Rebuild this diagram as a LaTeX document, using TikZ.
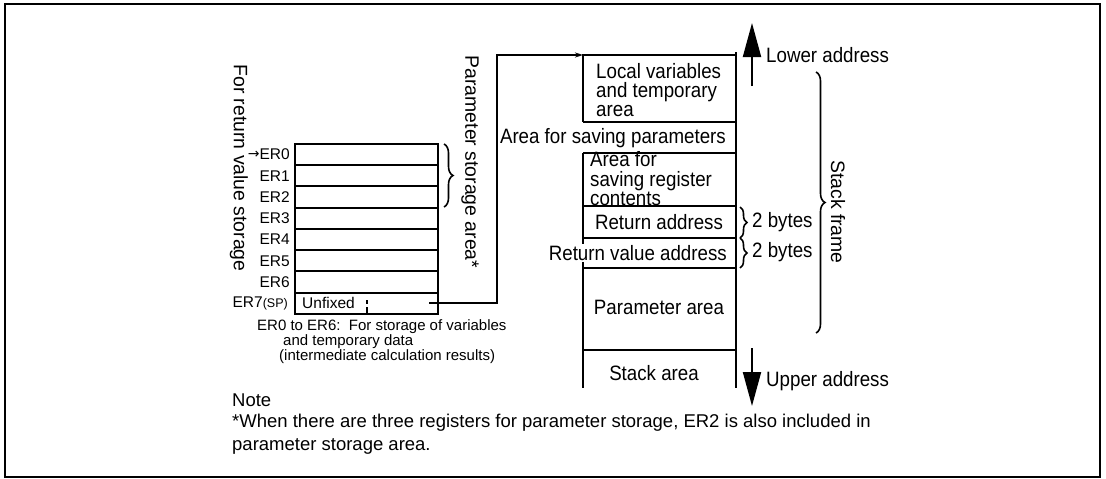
\documentclass[tikz,border=0pt]{standalone}
\usepackage{fontspec}
\setmainfont{Liberation Sans}
\newfontfamily\narrowsans[FakeStretch=0.9]{Liberation Sans}
\newfontfamily\arrowsans{DejaVu Sans}
\usetikzlibrary{calc,arrows.meta,decorations.pathreplacing}

\begin{document}
\begin{tikzpicture}[x=1pt, y=-1pt,
    wall/.style={line width=2pt},
    cell/.style={draw, line width=2pt, minimum width=143pt, minimum height=21.25pt, inner sep=0pt},
    reglabel/.style={anchor=east, font=\fontsize{15.5}{16}\selectfont, inner sep=0pt},
    stacktext/.style={font=\narrowsans\fontsize{20.8}{19}\selectfont, inner sep=1pt},
    side/.style={font=\fontsize{19.4}{20}\selectfont, rotate=-90, inner sep=0pt},
    brace/.style={decorate, decoration={brace, amplitude=#1}, line width=1.6pt},
    link/.style={-{Stealth[length=8pt, width=5pt]}, line width=2pt},
    dirarrow/.style={-{Triangle[length=34pt, width=18pt]}, line width=2pt},
    note/.style={anchor=west, font=\fontsize{18.5}{23}\selectfont, inner sep=0pt, align=left}
  ]
    \useasboundingbox (0,0) rectangle (1106,479);
    \draw[line width=2pt] (4.5,3.5) rectangle (1100,477);

    % register file
    \foreach \i in {0,...,7}
      \node[cell] (reg\i) at (366.5,{154.6+21.25*\i}) {};
    \node[reglabel] (lab0) at (290,154.6) {\raisebox{1.5pt}{\arrowsans\fontsize{14}{14}\selectfont →}ER0};
    \foreach \i in {1,...,6}
      \node[reglabel] (lab\i) at (290,{154.6+21.25*\i}) {ER\i};
    \node[reglabel] (lab7) at (288,303.4) {ER7{\fontsize{12.5}{12}\selectfont(SP)}};
    \node[reglabel, anchor=west] (unfixed) at (302,303.4) {Unfixed};
    \draw[line width=2pt, dash pattern=on 8pt off 3pt on 4pt] (reg7.south) -- ++(0,-15);

    \node[side] (retstore) at (239,168) {For return value storage};
    \node[side] (paramstore) at (470,162) {Parameter storage area*};
    \draw[brace=9pt] (444,144) -- (444,207);

    \node[anchor=west, align=left, inner sep=0pt, font=\fontsize{15}{13.5}\selectfont] (regnote) at (257,342)
      {ER0 to ER6:\ \ For storage of variables\\\hspace*{26pt}and temporary data\\\hspace*{22pt}(intermediate calculation results)};

    % stack
    \coordinate (stacktop) at (583,55);
    \foreach \y in {55,122,153,206,238,268,350}
      \draw[wall] (583,\y) -- (736,\y);
    \draw[wall] (583,54) -- (583,122);
    \draw[wall] (583,153) -- (583,388);
    \draw[wall] (736,52) -- (736,388);

    \node[stacktext, anchor=west, align=left] (locals) at (595,90) {Local variables\\and temporary\\area};
    \node[stacktext, anchor=east] (savparam) at (727,138) {Area for saving parameters};
    \node[stacktext, anchor=west, align=left, font=\narrowsans\fontsize{20.8}{19.5}\selectfont] (savreg) at (589,179)
      {Area for\\saving register\\contents};
    \node[stacktext] (retaddr) at (659,222) {Return address};
    \node[stacktext, fill=white, anchor=east] (retval) at (728,253) {Return value address};
    \node[stacktext] (paramarea) at (659,307) {Parameter area};
    \node[stacktext] (stackarea) at (654,373) {Stack area};

    % SP points at the stack top
    \coordinate (tap) at ($(reg7.east)+(-10,0)$);
    \draw[link] (tap) -| ($(stacktop)+(-86,0)$) -- (stacktop);

    % address direction
    \coordinate (upfoot) at (752,86);
    \coordinate (uptip) at (752,23);
    \draw[dirarrow] (upfoot) -- (uptip);
    \node[stacktext, anchor=west] (lower) at (765,55) {Lower address};
    \coordinate (downfoot) at (752,348);
    \coordinate (downtip) at (752,406);
    \draw[dirarrow] (downfoot) -- (downtip);
    \node[stacktext, anchor=west] (upper) at (765,381) {Upper address};

    \draw[brace=7pt] (740,207) -- (740,238);
    \draw[brace=7pt] (740,238) -- (740,268);
    \node[stacktext, anchor=west] (bytes1) at (751,222) {2 bytes};
    \node[stacktext, anchor=west] (bytes2) at (751,252) {2 bytes};
    \draw[brace=9pt] (816,72) -- (816,333);
    \node[side] (frame) at (838,212) {Stack frame};

    % footnote
    \node[note] (notehead) at (232,400) {Note};
    \node[note] (notetext) at (232,434.5)
      {*When there are three registers for parameter storage, ER2 is also included in\\parameter storage area.};
  \end{tikzpicture}
\end{document}
